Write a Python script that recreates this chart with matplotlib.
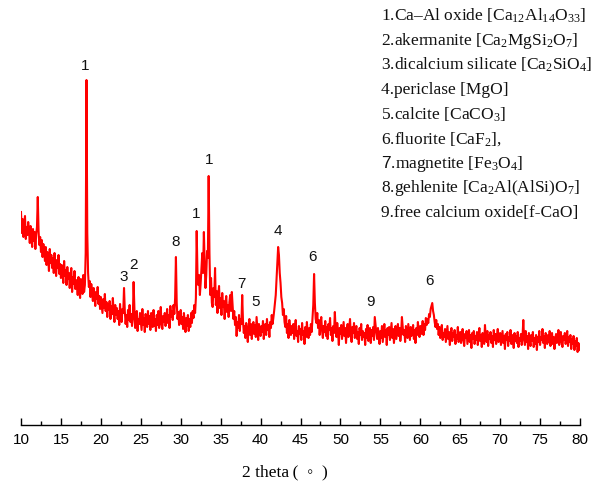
import numpy as np
import matplotlib
matplotlib.use("Agg")
import matplotlib.pyplot as plt
from matplotlib.ticker import MultipleLocator

plt.rcParams['mathtext.fontset'] = 'custom'
plt.rcParams['mathtext.rm'] = 'Liberation Serif'
plt.rcParams['mathtext.it'] = 'Liberation Serif:italic'
plt.rcParams['mathtext.sf'] = 'Liberation Sans'

# 2-theta grid: 10.0 .. 80.0 step 0.1
theta_start, theta_stop, theta_step = 10.0, 80.0, 0.1

intensity = [
    211, 190, 204, 186, 199, 207, 184, 196, 188, 201,
    193, 180, 197, 185, 176, 194, 182, 191, 174, 188,
    196, 226, 192, 178, 186, 171, 183, 166, 179, 172,
    162, 176, 158, 171, 165, 152, 174, 160, 168, 155,
    165, 150, 170, 157, 147, 163, 155, 168, 149, 159,
    145, 158, 151, 140, 162, 147, 153, 138, 156, 144,
    150, 135, 147, 155, 131, 146, 139, 152, 134, 143,
    140, 128, 146, 133, 125, 144, 137, 129, 148, 131,
    138, 170, 343, 190, 150, 136, 142, 126, 139, 130,
    122, 135, 128, 117, 131, 124, 136, 119, 127, 114,
    126, 118, 110, 124, 115, 129, 112, 121, 106, 119,
    113, 122, 104, 117, 109, 125, 111, 101, 118, 108,
    115, 104, 112, 98, 119, 107, 101, 114, 110, 135,
    112, 99, 108, 96, 113, 103, 118, 101, 109, 97,
    104, 141, 115, 95, 106, 112, 92, 104, 99, 110,
    101, 93, 114, 98, 105, 91, 109, 102, 96, 112,
    99, 107, 93, 110, 101, 96, 113, 97, 104, 92,
    108, 98, 112, 95, 103, 116, 99, 94, 107, 101,
    110, 97, 104, 114, 100, 108, 95, 117, 106, 112,
    103, 118, 109, 125, 166, 120, 104, 111, 98, 107,
    113, 99, 106, 94, 110, 102, 91, 105, 97, 108,
    92, 104, 96, 110, 100, 112, 105, 118, 110, 125,
    192, 150, 138, 148, 128, 140, 155, 170, 150, 191,
    160, 135, 148, 172, 165, 247, 170, 128, 145, 120,
    116, 135, 126, 155, 118, 132, 110, 128, 137, 115,
    125, 108, 130, 116, 122, 104, 119, 127, 111, 118,
    106, 121, 128, 112, 131, 118, 104, 112, 98, 106,
    87, 101, 95, 108, 92, 104, 99, 128, 102, 90,
    97, 85, 100, 92, 81, 96, 104, 88, 99, 84,
    95, 101, 89, 98, 86, 106, 94, 83, 99, 91,
    87, 97, 91, 102, 84, 95, 99, 88, 104, 93,
    98, 86, 101, 95, 108, 99, 105, 112, 120, 128,
    145, 160, 176, 168, 150, 140, 126, 120, 108, 114,
    101, 96, 107, 90, 99, 85, 103, 94, 88, 97,
    90, 99, 84, 95, 103, 87, 92, 81, 97, 89,
    94, 83, 100, 88, 92, 79, 96, 86, 101, 90,
    85, 95, 88, 99, 91, 105, 118, 149, 120, 104,
    100, 110, 95, 103, 88, 99, 106, 92, 85, 97,
    91, 102, 87, 96, 84, 99, 93, 105, 88, 95,
    82, 97, 90, 111, 94, 86, 100, 91, 78, 95,
    89, 98, 84, 93, 101, 87, 95, 80, 92, 99,
    86, 94, 104, 89, 81, 96, 90, 100, 85, 93,
    97, 84, 91, 79, 95, 88, 99, 83, 92, 86,
    90, 78, 94, 85, 98, 82, 89, 95, 80, 93,
    87, 96, 83, 106, 98, 90, 84, 95, 88, 79,
    92, 85, 97, 81, 90, 99, 86, 93, 78, 95,
    88, 96, 83, 91, 100, 85, 94, 80, 89, 97,
    84, 92, 99, 87, 95, 82, 90, 106, 96, 88,
    93, 81, 97, 89, 85, 99, 91, 83, 96, 87,
    90, 98, 84, 93, 80, 95, 88, 101, 92, 86,
    97, 89, 94, 102, 88, 99, 93, 105, 98, 104,
    100, 109, 106, 114, 117, 120, 112, 108, 101, 96,
    103, 94, 99, 88, 96, 85, 92, 98, 83, 90,
    86, 94, 81, 89, 97, 84, 91, 78, 88, 95,
    82, 90, 86, 93, 79, 88, 84, 96, 81, 87,
    91, 80, 86, 94, 83, 77, 89, 85, 92, 79,
    86, 93, 81, 88, 75, 90, 84, 92, 79, 87,
    83, 91, 78, 86, 95, 82, 88, 76, 90, 84,
    79, 98, 86, 81, 92, 77, 88, 84, 91, 80,
    87, 76, 93, 83, 89, 79, 86, 94, 81, 85,
    90, 78, 85, 92, 80, 87, 74, 89, 83, 91,
    77, 86, 82, 93, 79, 88, 84, 75, 90, 82,
    87, 80, 91, 76, 85, 82, 89, 78, 86, 103,
    84, 78, 92, 81, 87, 74, 90, 83, 77, 88,
    82, 91, 76, 85, 79, 88, 73, 86, 81, 92,
    78, 86, 83, 94, 80, 87, 75, 90, 84, 79,
    88, 81, 92, 77, 85, 90, 79, 86, 74, 84,
    89, 80, 86, 93, 78, 84, 91, 82, 76, 87,
    83, 90, 79, 85, 92, 77, 86, 81, 88, 74,
    84, 79, 87, 73, 82, 77, 85, 71, 80, 76,
    73,
]

# peak annotations: label, 2theta, height
peak_labels = ["1", "3", "2", "8", "1", "1", "7", "5", "4", "6", "9", "6"]
peak_theta = [18.05, 22.9, 24.15, 29.4, 31.95, 33.5, 37.55, 39.4, 42.2, 46.55, 53.8, 61.1]
peak_height = [357, 146, 158, 181, 209, 263, 139, 121, 192, 166, 121, 142]

legend_lines = [
    "1.Ca\u2013Al oxide [Ca$_{12}$Al$_{14}$O$_{33}$]",
    "2.akermanite [Ca$_{2}$MgSi$_{2}$O$_{7}$]",
    "3.dicalcium silicate [Ca$_{2}$SiO$_{4}$]",
    "4.periclase [MgO]",
    "5.calcite [CaCO$_{3}$]",
    "6.fluorite [CaF$_{2}$],",
    "$\\mathsf{7}$.magnetite [Fe$_{3}$O$_{4}$]",
    "8.gehlenite [Ca$_{2}$Al(AlSi)O$_{7}$]",
    "9.free calcium oxide[f-CaO]",
]

x_ticks = list(range(10, 81, 5))

W, H = 591, 492
fig = plt.figure(figsize=(W / 100, H / 100), dpi=100)
ax = fig.add_axes([21 / W, 1 - 425 / H, (580 - 21) / W, 425 / H])

theta = np.round(np.arange(len(intensity)) * theta_step + theta_start, 3)
ax.plot(theta, intensity, color="#ff0000", lw=1.5)

ax.set_xlim(10, 80)
ax.set_ylim(-2, 423)
for s in ["top", "left", "right"]:
    ax.spines[s].set_visible(False)
ax.spines["bottom"].set_linewidth(1.0)
ax.set_yticks([])
ax.set_xticks(x_ticks)
ax.xaxis.set_minor_locator(MultipleLocator(2.5))
ax.tick_params(axis="x", which="major", direction="in", length=5, width=1.0,
               labelsize=11, pad=6)
ax.tick_params(axis="x", which="minor", direction="in", length=3, width=1.0)
for lab in ax.get_xticklabels():
    lab.set_fontfamily("Liberation Sans")

for lab, t, h in zip(peak_labels, peak_theta, peak_height):
    ax.text(t, h, lab, ha="center", va="center", fontsize=11,
            family="Liberation Sans", color="#111111")

for i, line in enumerate(legend_lines):
    fig.text(381 / W, 1 - (16 + i * 24.6) / H, line, ha="left", va="center",
             fontsize=12.5, family="Liberation Serif", color="#111111")

fig.text(285 / W, 1 - 472 / H, "2 theta\u2009(  \u25e6  )", ha="center", va="center",
         fontsize=12.5, family=["Liberation Serif", "DejaVu Sans"])

fig.savefig("out.png", dpi=100)
